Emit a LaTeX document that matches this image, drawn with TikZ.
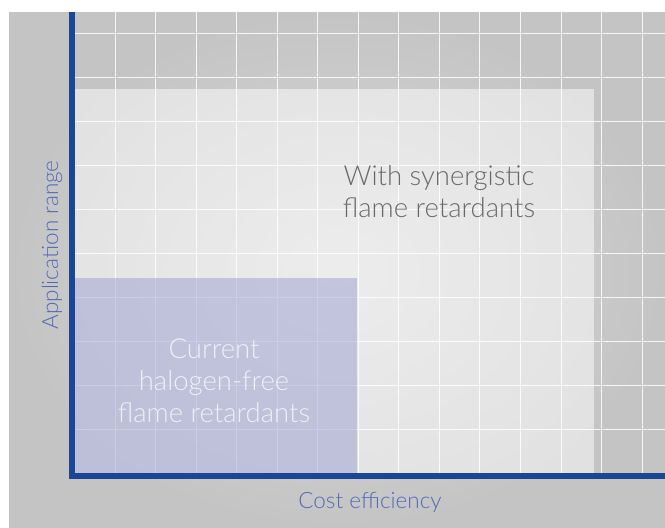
\documentclass[tikz,border=0pt]{standalone}
\usepackage{fontspec}
\setmainfont{Lato Light}
\definecolor{axisblue}{HTML}{1B4595}
\definecolor{labelblue}{RGB}{85,105,185}
\definecolor{bgouter}{HTML}{C4C4C4}
\definecolor{bginner}{HTML}{DADADA}
\definecolor{overlayblue}{RGB}{154,159,208}
\definecolor{textgray}{HTML}{6A6A6A}
\tikzset{
  gridline/.style={draw=white, line width=0.8pt, draw opacity=0.85},
  bigtext/.style={font=\fontsize{27.5}{32}\selectfont, align=center, inner sep=0pt},
  axislabel/.style={font=\fontsize{22.5}{27}\selectfont, text=labelblue, inner sep=0pt},
  axisbar/.style={fill=axisblue}
}
\begin{document}
\begin{tikzpicture}[x=1pt,y=-1pt]
\useasboundingbox (0,0) rectangle (665,528);
% background
\shade[inner color=bginner, outer color=bgouter] (9,12) rectangle (665,528);
% grid
\foreach \i in {0,...,13} \draw[gridline] ({115+40.54*\i},12) -- ({115+40.54*\i},473);
\foreach \j in {0,...,9} \draw[gridline] (75,{33+44*\j}) -- (665,{33+44*\j});
% light region
\fill[white, opacity=0.5] (75,89) rectangle (594,473);
% blue region
\fill[overlayblue, opacity=0.5] (75,278) rectangle (357,473);
% axes
\fill[axisbar] (69,12) rectangle (75,479);
\fill[axisbar] (69,473) rectangle (665,479);
% texts
\node[bigtext, text=textgray] (syn) at (439,191.5) {With synergistic\\flame retardants};
\node[bigtext, text=white, text opacity=0.75] (cur) at (214,380.5) {Current\\halogen-free\\flame retardants};
\node[axislabel, anchor=base] (xlab) at (370,508) {Cost efficiency};
\node[axislabel, anchor=base, rotate=90] (ylab) at (58,245) {Application range};
\end{tikzpicture}
\end{document}
